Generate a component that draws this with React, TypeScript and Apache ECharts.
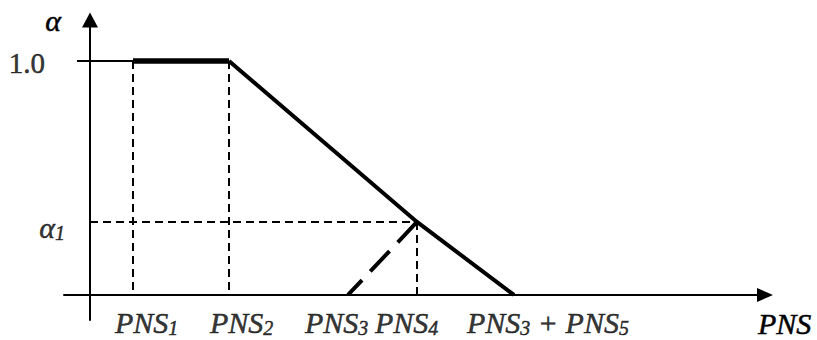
import { useEffect, useRef } from 'react';
import * as echarts from 'echarts';

// Break points on the PNS axis (arbitrary schematic units)
const pnsValues = [4.3, 13.9, 25.8, 32.7]; // PNS1, PNS2, PNS3, PNS4
const pnsSum = 42.4; // PNS3 + PNS5
// Levels on the α axis
const alphaLevels = [1.0, 0.312]; // 1.0, α1

// Tick captions (rich text: m = main, s = subscript, n = upright number)
const xCaptions = [
  '{m|PNS}{s|1}',
  '{m|PNS}{s|2}',
  '{m|PNS}{s|3}',
  '{m|PNS}{s|4}',
  '{m|PNS}{s|3}{m| + PNS}{s|5}',
];
const yCaptions = ['{n|1.0}', '{m|α}{s|1}'];

const SERIF = '"Liberation Serif", "Times New Roman", serif';
const ink = { color: '#000', textBorderColor: '#000', textBorderWidth: 0.5 };
const rich = {
  m: { ...ink, fontFamily: SERIF, fontStyle: 'italic', fontSize: 30, lineHeight: 30, verticalAlign: 'top' },
  s: { ...ink, fontFamily: SERIF, fontStyle: 'italic', fontSize: 20, lineHeight: 20, padding: [11, 0, 0, 0], verticalAlign: 'bottom' },
  n: { ...ink, fontFamily: SERIF, fontSize: 29, lineHeight: 30 },
};

// caption placement relative to each tick point
const xCaptionShift = [[-18, 13], [-19, 13], [-43, 13], [-42, 13], [-47, 13]];
const yCaptionShift = [[-45, 2], [-25, 6]];

const TICK_START = -1.3; // left end of the short 1.0 tick

export default function App() {
  const ref = useRef<HTMLDivElement>(null);

  useEffect(() => {
    if (!ref.current) return;
    const chart = echarts.init(ref.current, undefined, { renderer: 'svg' });
    const [p1, p2, p3, p4] = pnsValues;
    const [top, a1] = alphaLevels;

    const guide = (data: number[][]) => ({
      type: 'line',
      data,
      symbol: 'none',
      silent: true,
      z: 1,
      lineStyle: { color: '#000', width: 2, type: [8, 5] },
    });

    chart.setOption({
      animation: false,
      backgroundColor: '#fff',
      grid: { left: 64, right: 52, top: 20, bottom: 20 },
      xAxis: {
        type: 'value',
        min: -2.6,
        max: 67.5,
        axisLine: {
          onZero: true,
          symbol: ['none', 'triangle'],
          symbolSize: [14, 16],
          lineStyle: { color: '#000', width: 2 },
        },
        axisTick: { show: false },
        axisLabel: { show: false },
        splitLine: { show: false },
        name: 'PNS',
        nameLocation: 'end',
        nameGap: -7,
        nameTextStyle: {
          ...ink,
          fontFamily: SERIF,
          fontStyle: 'italic',
          fontSize: 30,
          align: 'left',
          verticalAlign: 'top',
          padding: [14, 0, 0, 0],
        },
      },
      yAxis: {
        type: 'value',
        min: -0.107,
        max: 1.175,
        axisLine: {
          onZero: true,
          symbol: ['none', 'triangle'],
          symbolSize: [16, 15],
          lineStyle: { color: '#000', width: 2 },
        },
        axisTick: { show: false },
        axisLabel: { show: false },
        splitLine: { show: false },
        name: 'α',
        nameLocation: 'end',
        nameGap: 0,
        nameTextStyle: {
          ...ink,
          fontFamily: SERIF,
          fontStyle: 'italic',
          fontSize: 30,
          align: 'right',
          verticalAlign: 'middle',
          padding: [0, 29, 0, 0],
        },
      },
      series: [
        guide([[p1, top], [p1, 0]]),
        guide([[p2, top], [p2, 0]]),
        guide([[0, a1], [p4, a1]]),
        guide([[p4, a1], [p4, 0]]),
        {
          type: 'line',
          data: [[TICK_START, top], [p1, top]],
          symbol: 'none',
          silent: true,
          z: 2,
          lineStyle: { color: '#000', width: 2 },
        },
        {
          type: 'line',
          data: [[p1, top], [p2, top]],
          symbol: 'none',
          silent: true,
          z: 3,
          lineStyle: { color: '#000', width: 5.5 },
        },
        {
          type: 'line',
          data: [[p2, top], [p4, a1], [pnsSum, 0]],
          symbol: 'none',
          silent: true,
          z: 3,
          lineStyle: { color: '#000', width: 4, join: 'miter' },
        },
        {
          // shifted start: dashed from the α1 point back down to PNS3
          type: 'line',
          data: [[p4, a1], [p3, 0]],
          symbol: 'none',
          silent: true,
          z: 3,
          lineStyle: { color: '#000', width: 4, type: [28, 12] },
        },
        {
          type: 'scatter',
          symbolSize: 0,
          silent: true,
          data: [...pnsValues, pnsSum].map((x, i) => ({
            value: [x, 0],
            label: {
              show: true,
              formatter: xCaptions[i],
              position: xCaptionShift[i],
              align: 'left',
              verticalAlign: 'top',
              rich,
            },
          })),
        },
        {
          type: 'scatter',
          symbolSize: 0,
          silent: true,
          data: alphaLevels.map((y, i) => ({
            value: [0, y],
            label: {
              show: true,
              formatter: yCaptions[i],
              position: yCaptionShift[i],
              align: 'right',
              verticalAlign: 'middle',
              rich,
            },
          })),
        },
      ],
    });

    return () => chart.dispose();
  }, []);

  return (
    <div
      ref={ref}
      style={{ position: 'fixed', left: 0, top: 0, width: 817, height: 340, background: '#fff' }}
    />
  );
}
